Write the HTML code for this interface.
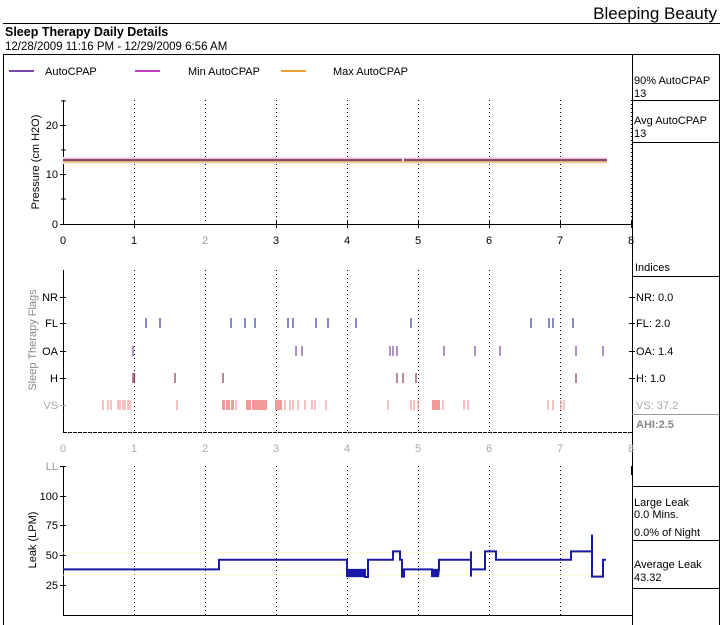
<!DOCTYPE html>
<html><head><meta charset="utf-8"><style>
html,body{margin:0;padding:0;background:#fff;width:723px;height:625px;overflow:hidden}
svg{display:block}
text{font-family:"Liberation Sans",sans-serif;font-size:11px;fill:#000}
</style></head><body>
<svg width="723" height="625" viewBox="0 0 723 625">
<text x="717" y="19" text-anchor="end" style="font-size:17px">Bleeping Beauty</text>
<line x1="3" y1="23.5" x2="720" y2="23.5" stroke="#000"/>
<text x="5" y="36" style="font-size:12.5px;font-weight:bold">Sleep Therapy Daily Details</text>
<text x="5" y="50" style="font-size:11.5px">12/28/2009 11:16 PM - 12/29/2009 6:56 AM</text>
<path d="M3.5,625 V54.5 H719.5 V625" fill="none" stroke="#000"/>
<line x1="632.5" y1="54" x2="632.5" y2="625" stroke="#000"/>
<line x1="9" y1="71" x2="34" y2="71" stroke="#7a48a8" stroke-width="2"/><text x="45" y="75">AutoCPAP</text>
<line x1="135" y1="71" x2="160" y2="71" stroke="#c040c0" stroke-width="2"/><text x="188" y="75">Min AutoCPAP</text>
<line x1="281" y1="71" x2="306" y2="71" stroke="#e8a030" stroke-width="2"/><text x="333" y="75">Max AutoCPAP</text>
<text x="634" y="84">90% AutoCPAP</text><text x="634" y="97">13</text>
<line x1="632" y1="100.5" x2="719" y2="100.5" stroke="#000"/>
<text x="634" y="124">Avg AutoCPAP</text><text x="634" y="137">13</text>
<line x1="632" y1="142.5" x2="719" y2="142.5" stroke="#000"/>
<g stroke="#000" stroke-dasharray="1,3">
<line x1="134.5" y1="100" x2="134.5" y2="224"/><line x1="205.5" y1="100" x2="205.5" y2="224"/><line x1="276.5" y1="100" x2="276.5" y2="224"/><line x1="347.5" y1="100" x2="347.5" y2="224"/><line x1="418.5" y1="100" x2="418.5" y2="224"/><line x1="489.5" y1="100" x2="489.5" y2="224"/><line x1="560.5" y1="100" x2="560.5" y2="224"/><line x1="631.5" y1="100" x2="631.5" y2="224"/>
<line x1="134.5" y1="270" x2="134.5" y2="432"/><line x1="205.5" y1="270" x2="205.5" y2="432"/><line x1="276.5" y1="270" x2="276.5" y2="432"/><line x1="347.5" y1="270" x2="347.5" y2="432"/><line x1="418.5" y1="270" x2="418.5" y2="432"/><line x1="489.5" y1="270" x2="489.5" y2="432"/><line x1="560.5" y1="270" x2="560.5" y2="432"/>
<line x1="134.5" y1="466" x2="134.5" y2="615"/><line x1="205.5" y1="466" x2="205.5" y2="615"/><line x1="276.5" y1="466" x2="276.5" y2="615"/><line x1="347.5" y1="466" x2="347.5" y2="615"/><line x1="418.5" y1="466" x2="418.5" y2="615"/><line x1="489.5" y1="466" x2="489.5" y2="615"/><line x1="560.5" y1="466" x2="560.5" y2="615"/>
</g>
<g stroke="#000">
<line x1="63.5" y1="100" x2="63.5" y2="224"/><line x1="63" y1="224.5" x2="632" y2="224.5"/>
<line x1="60" y1="125.5" x2="66" y2="125.5"/><line x1="60" y1="174.5" x2="66" y2="174.5"/><line x1="60" y1="224.5" x2="66" y2="224.5"/>
<line x1="61" y1="101" x2="66" y2="101"/><line x1="61" y1="150" x2="66" y2="150"/><line x1="61" y1="199" x2="66" y2="199"/>
<line x1="134.5" y1="221" x2="134.5" y2="228"/><line x1="276.5" y1="221" x2="276.5" y2="228"/><line x1="347.5" y1="221" x2="347.5" y2="228"/><line x1="418.5" y1="221" x2="418.5" y2="228"/><line x1="489.5" y1="221" x2="489.5" y2="228"/><line x1="560.5" y1="221" x2="560.5" y2="228"/><line x1="631.5" y1="221" x2="631.5" y2="228"/>
</g>
<g text-anchor="end"><text x="58" y="129">20</text><text x="58" y="178">10</text><text x="58" y="228">0</text></g>
<g text-anchor="middle"><text x="63" y="244">0</text><text x="134" y="244">1</text><text x="205" y="244" style="fill:#999">2</text><text x="276" y="244">3</text><text x="347" y="244">4</text><text x="418" y="244">5</text><text x="489" y="244">6</text><text x="560" y="244">7</text><text x="631" y="244">8</text></g>
<text transform="translate(39,162) rotate(-90)" text-anchor="middle">Pressure (cm H2O)</text>
<rect x="63" y="157" width="544" height="7" fill="#fbe8f5"/>
<line x1="63" y1="162" x2="607" y2="162" stroke="#f0d090" stroke-width="2"/>
<line x1="63" y1="160" x2="402" y2="160" stroke="#8b4a6a" stroke-width="2.5"/>
<line x1="404" y1="160" x2="607" y2="160" stroke="#8b4a6a" stroke-width="2.5"/>
<g stroke="#000">
<line x1="63.5" y1="270" x2="63.5" y2="432"/>
<line x1="63" y1="432.5" x2="632" y2="432.5" stroke-dasharray="4,1"/>
<line x1="60" y1="297.5" x2="66" y2="297.5"/><line x1="60" y1="323.5" x2="66" y2="323.5"/><line x1="60" y1="351.5" x2="66" y2="351.5"/><line x1="60" y1="378.5" x2="66" y2="378.5"/><line x1="60" y1="405.5" x2="66" y2="405.5" stroke="#aaa"/>
</g>
<g text-anchor="end"><text x="58" y="301">NR</text><text x="58" y="327">FL</text><text x="58" y="355">OA</text><text x="58" y="382">H</text><text x="58" y="409" style="fill:#aaa">VS</text></g>
<text transform="translate(36,340) rotate(-90)" text-anchor="middle" style="fill:#888">Sleep Therapy Flags</text>
<g text-anchor="middle"><text x="63" y="452" style="fill:#aaa">0</text><text x="134" y="452" style="fill:#aaa">1</text><text x="205" y="452" style="fill:#aaa">2</text><text x="276" y="452" style="fill:#aaa">3</text><text x="347" y="452" style="fill:#aaa">4</text><text x="418" y="452" style="fill:#aaa">5</text><text x="489" y="452" style="fill:#aaa">6</text><text x="560" y="452" style="fill:#aaa">7</text><text x="631" y="452" style="fill:#aaa">8</text></g>
<g stroke="#3a3a9a" stroke-width="1.2">
<path d="M146,318v10M160,318v10M231,318v10M245,318v10M255,318v10M288,318v10M293,318v10M316,318v10M328,318v10M356,318v10M411,318v10M531,318v10M549,318v10M553,318v10M573,318v10"/>
</g>
<g stroke="#7a4a9a" stroke-width="1.2">
<path d="M133,346v10M296,346v10M302,346v10M390,346v10M393,346v10M397,346v10M444,346v10M475,346v10M500,346v10M576,346v10M603,346v10"/>
</g>
<g stroke="#8a3a5a" stroke-width="1.2">
<path d="M133,373v10M134.5,373v10M175,373v10M223,373v10M397,373v10M403,373v10M416,373v10M576,373v10"/>
</g>
<g stroke="#f09a9a" stroke-width="1.2">
<path d="M103,400v10M108,400v10M111,400v10M118,400v10M120,400v10M123,400v10M125,400v10M128,400v10M130,400v10M177,400v10M236,400v10M285,400v10M290,400v10M293,400v10M298,400v10M305,400v10M312,400v10M315,400v10M326,400v10M388,400v10M411,400v10M414,400v10M418,400v10M443,400v10M464,400v10M468,400v10M548,400v10M553,400v10M561,400v10M564,400v10"/>
</g>
<g fill="#f09a9a">
<rect x="222" y="400" width="3" height="10"/><rect x="226" y="400" width="4" height="10"/><rect x="231" y="400" width="3" height="10"/>
<rect x="246" y="400" width="5" height="10"/><rect x="252" y="400" width="15" height="10"/>
<rect x="275" y="400" width="7" height="10"/><rect x="432" y="400" width="8" height="10"/>
</g>
<text x="635" y="271">Indices</text>
<line x1="632" y1="276.5" x2="719" y2="276.5" stroke="#000"/>
<line x1="629" y1="297.5" x2="635" y2="297.5" stroke="#000"/><line x1="629" y1="323.5" x2="635" y2="323.5" stroke="#000"/><line x1="629" y1="351.5" x2="635" y2="351.5" stroke="#000"/><line x1="629" y1="378.5" x2="635" y2="378.5" stroke="#000"/>
<text x="636" y="301">NR: 0.0</text><text x="636" y="327">FL: 2.0</text><text x="636" y="355">OA: 1.4</text><text x="636" y="382">H: 1.0</text><text x="636" y="409" style="fill:#aaa">VS: 37.2</text>
<line x1="632" y1="414.5" x2="719" y2="414.5" stroke="#999"/>
<text x="636" y="428" style="fill:#888;font-weight:bold">AHI:2.5</text>
<g stroke="#000">
<line x1="63.5" y1="466" x2="63.5" y2="615"/><line x1="63" y1="615.5" x2="632" y2="615.5"/>
<line x1="60" y1="466.5" x2="66" y2="466.5"/><line x1="60" y1="496.5" x2="66" y2="496.5"/><line x1="60" y1="525.5" x2="66" y2="525.5"/><line x1="60" y1="555.5" x2="66" y2="555.5"/><line x1="60" y1="585.5" x2="66" y2="585.5"/>
<line x1="631.5" y1="466" x2="631.5" y2="475"/>
</g>
<g text-anchor="end"><text x="58" y="470" style="fill:#999">LL</text><text x="58" y="500">100</text><text x="58" y="529">75</text><text x="58" y="559">50</text><text x="58" y="589">25</text></g>
<text transform="translate(36,540) rotate(-90)" text-anchor="middle">Leak (LPM)</text>
<line x1="63" y1="553" x2="607" y2="553" stroke="#fff4c8"/>
<line x1="63" y1="575" x2="607" y2="575" stroke="#fff4c8"/>
<path d="M63,569.4H219V559.8H347V577L349,569V577L351,569V577L353,569V577L355,569V577L357,569V577L359,569V577L361,569V577L363,569V577L365,569V577L368,577V559.8H393V551.4H400V559.8H402V576.6H404V569.4H432V577L434,569V577L436,569V577L438,569V577L439,569V559.8H471V551.4V576.6V569.4H485V551.4H496V559.8H571V551.4H592V534.6V576.6H603V559.8H606" fill="none" stroke="#1a1aa8" stroke-width="2"/>
<line x1="632" y1="486.5" x2="719" y2="486.5" stroke="#000"/>
<text x="634" y="506">Large Leak</text><text x="634" y="518">0.0 Mins.</text><text x="634" y="536">0.0% of Night</text>
<line x1="632" y1="540.5" x2="719" y2="540.5" stroke="#000"/>
<text x="634" y="568">Average Leak</text><text x="634" y="581">43.32</text>
<line x1="632" y1="588.5" x2="719" y2="588.5" stroke="#000"/>
</svg>
</body></html>
